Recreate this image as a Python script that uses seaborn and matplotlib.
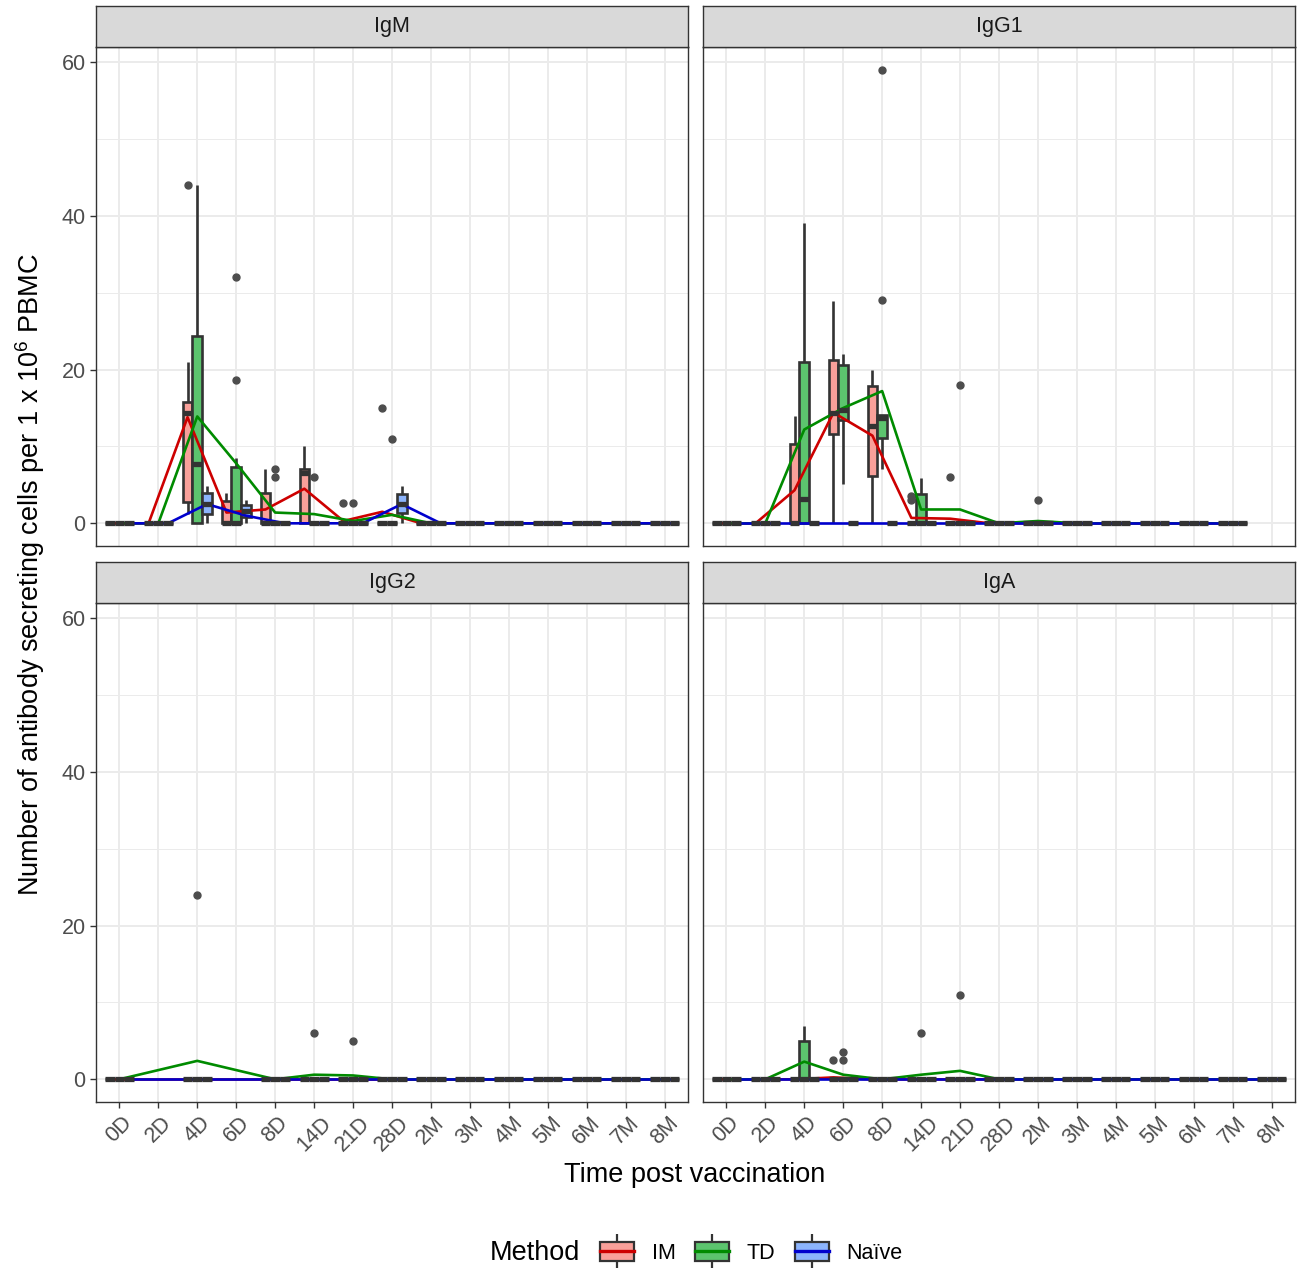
import numpy as np
import pandas as pd
import matplotlib
matplotlib.use("Agg")
import matplotlib.pyplot as plt
import matplotlib.patches as mpatches
from matplotlib.lines import Line2D
from matplotlib.legend_handler import HandlerTuple
from matplotlib.ticker import MultipleLocator
import seaborn as sns

times = ["0D", "2D", "4D", "6D", "8D", "14D", "21D", "28D",
         "2M", "3M", "4M", "5M", "6M", "7M", "8M"]
methods = ["IM", "TD", "Naïve"]
isotypes = ["IgM", "IgG1", "IgG2", "IgA"]

# time points with no samples in a panel
missing = {"IgG1": ["8M"], "IgG2": ["2D", "6D"]}

# cell counts for the groups that are not all zero (every other group is nine zeros)
counts = {
    ("IgM", "IM", "4D"): [1.2, 2, 2.8, 8, 14.4, 15, 15.8, 21, 44],
    ("IgM", "TD", "4D"): [0, 0, 0, 3, 7.7, 15, 24.3, 33, 44],
    ("IgM", "Naïve", "4D"): [0, 0.8, 1.2, 2, 2.5, 3.2, 3.9, 4.5, 4.9],
    ("IgM", "IM", "6D"): [0, 0, 0, 0, 0, 2, 2.9, 3.5, 4.0],
    ("IgM", "TD", "6D"): [0, 0, 0, 0, 0, 0, 0, 2, 5, 7.3, 8.5, 18.6, 32],
    ("IgM", "Naïve", "6D"): [0, 0.5, 0.87, 1.2, 1.6, 2, 2.34, 2.7, 3.0],
    ("IgM", "IM", "8D"): [0, 0, 0, 0, 0, 2, 3.9, 5, 7],
    ("IgM", "TD", "8D"): [0, 0, 0, 0, 0, 0, 0, 6, 7],
    ("IgM", "IM", "14D"): [0, 0, 0, 3, 6.6, 6.8, 7.1, 8.5, 10],
    ("IgM", "TD", "14D"): [0, 0, 0, 0, 0, 0, 0, 0, 6],
    ("IgM", "IM", "21D"): [0, 0, 0, 0, 0, 0, 0, 0, 2.6],
    ("IgM", "TD", "21D"): [0, 0, 0, 0, 0, 0, 0, 0, 2.6],
    ("IgM", "IM", "28D"): [0, 0, 0, 0, 0, 0, 0, 0, 15],
    ("IgM", "TD", "28D"): [0, 0, 0, 0, 0, 0, 0, 0, 11],
    ("IgM", "Naïve", "28D"): [0, 0.8, 1.3, 2, 2.5, 3.2, 3.8, 4.3, 4.9],
    ("IgG1", "IM", "4D"): [0, 0, 0, 0, 0, 5, 10.3, 12, 14],
    ("IgG1", "TD", "4D"): [0, 0, 0, 1, 3.1, 10, 21, 30, 39],
    ("IgG1", "IM", "6D"): [0, 8, 11.6, 13, 14.4, 18, 21.3, 25, 28.9],
    ("IgG1", "TD", "6D"): [5.1, 10, 13.5, 14, 14.8, 18, 20.6, 21.5, 22],
    ("IgG1", "IM", "8D"): [0, 3, 6.2, 10, 12.7, 15, 17.8, 19, 20],
    ("IgG1", "TD", "8D"): [7.1, 9, 11.1, 12, 13.75, 13.9, 14.1, 29, 59],
    ("IgG1", "IM", "14D"): [0, 0, 0, 0, 0, 0, 0, 3.0, 3.6],
    ("IgG1", "TD", "14D"): [0, 0, 0, 0, 0, 1, 3.8, 5, 5.9],
    ("IgG1", "IM", "21D"): [0, 0, 0, 0, 0, 0, 0, 0, 6],
    ("IgG1", "TD", "21D"): [0, 0, 0, 0, 0, 0, 0, 0, 18],
    ("IgG1", "TD", "2M"): [0, 0, 0, 0, 0, 0, 0, 0, 3],
    ("IgG2", "TD", "4D"): [0, 0, 0, 0, 0, 0, 0, 0, 24],
    ("IgG2", "TD", "14D"): [0, 0, 0, 0, 0, 0, 0, 0, 6],
    ("IgG2", "TD", "21D"): [0, 0, 0, 0, 0, 0, 0, 0, 5],
    ("IgA", "TD", "4D"): [0, 0, 0, 0, 0, 2, 5, 6, 6.9],
    ("IgA", "IM", "6D"): [0, 0, 0, 0, 0, 0, 0, 0, 2.5],
    ("IgA", "TD", "6D"): [0, 0, 0, 0, 0, 0, 0, 2.5, 3.5],
    ("IgA", "TD", "14D"): [0, 0, 0, 0, 0, 0, 0, 0, 6],
    ("IgA", "TD", "21D"): [0, 0, 0, 0, 0, 0, 0, 0, 11],
}

# group means, joined by lines (None = no samples)
means_IgM = {
    "IM":    [0, 0, 13.8, 1.4, 1.8, 4.5, 0.3, 1.5, 0, 0, 0, 0, 0, 0, 0],
    "TD":    [0, 0, 13.9, 7.8, 1.4, 1.2, 0.3, 1.1, 0, 0, 0, 0, 0, 0, 0],
    "Naïve": [0, 0, 2.5, 1.0, 0, 0, 0, 2.5, 0, 0, 0, 0, 0, 0, 0],
}
means_IgG1 = {
    "IM":    [0, 0, 4.3, 14.4, 11.4, 0.7, 0.6, 0, 0, 0, 0, 0, 0, 0, None],
    "TD":    [0, 0, 12.2, 15.0, 17.2, 1.8, 1.8, 0, 0.3, 0, 0, 0, 0, 0, None],
    "Naïve": [0, 0, 0, 0, 0, 0, 0, 0, 0, 0, 0, 0, 0, 0, None],
}
means_IgG2 = {
    "IM":    [0, None, 0, None, 0, 0, 0, 0, 0, 0, 0, 0, 0, 0, 0],
    "TD":    [0, None, 2.4, None, 0, 0.6, 0.5, 0, 0, 0, 0, 0, 0, 0, 0],
    "Naïve": [0, None, 0, None, 0, 0, 0, 0, 0, 0, 0, 0, 0, 0, 0],
}
means_IgA = {
    "IM":    [0, 0, 0, 0.25, 0, 0, 0, 0, 0, 0, 0, 0, 0, 0, 0],
    "TD":    [0, 0, 2.3, 0.6, 0, 0.6, 1.1, 0, 0, 0, 0, 0, 0, 0, 0],
    "Naïve": [0, 0, 0, 0, 0, 0, 0, 0, 0, 0, 0, 0, 0, 0, 0],
}
means = {"IgM": means_IgM, "IgG1": means_IgG1, "IgG2": means_IgG2, "IgA": means_IgA}

fill_colors = ["#F9A09A", "#5CC46E", "#8CB4FC"]
line_colors = ["#CD0000", "#008B00", "#0000CD"]

plt.rcParams["font.family"] = ["Liberation Sans", "DejaVu Sans"]
plt.rcParams["mathtext.fontset"] = "custom"
plt.rcParams["mathtext.rm"] = "Liberation Sans"
plt.rcParams["mathtext.it"] = "Liberation Sans:italic"

# long tables
rows = []
for iso in isotypes:
    for m in methods:
        for t in times:
            if t in missing.get(iso, []):
                continue
            for v in counts.get((iso, m, t), [0] * 9):
                rows.append((iso, m, t, v))
df = pd.DataFrame(rows, columns=["isotype", "method", "time", "count"])

box_width = 0.75
mrows = []
for iso in isotypes:
    for k, m in enumerate(methods):
        # same dodge as the boxes
        offset = (k - (len(methods) - 1) / 2) * box_width / len(methods)
        for i, (t, v) in enumerate(zip(times, means[iso][m])):
            if v is not None:
                mrows.append((iso, m, i + offset, v))
df_mean = pd.DataFrame(mrows, columns=["isotype", "method", "xpos", "mean"])

W, H = 1297, 1269
fig = plt.figure(figsize=(W / 100, H / 100), dpi=100)


def frac(x, y, w, h):
    return [x / W, 1 - (y + h) / H, w / W, h / H]


panel_w, panel_h, strip_h = 592, 499, 41
positions = {"IgM": (96, 47), "IgG1": (703, 47), "IgG2": (96, 603), "IgA": (703, 603)}
tick_size = 15.5
title_size = 19.5
edge = "#333333"

for iso in isotypes:
    px, py = positions[iso]
    ax = fig.add_axes(frac(px, py, panel_w, panel_h))
    sub = df[df.isotype == iso]
    sns.boxplot(data=sub, x="time", y="count", hue="method", order=times,
                hue_order=methods, palette=fill_colors, width=box_width, gap=0,
                dodge=True, saturation=1, linewidth=1.9, linecolor=edge,
                showcaps=False, whis=1.5,
                flierprops=dict(marker="o", markersize=5, markerfacecolor="#4D4D4D",
                                markeredgecolor="#4D4D4D"),
                medianprops=dict(linewidth=3.8, color=edge),
                legend=False, ax=ax)
    msub = df_mean[df_mean.isotype == iso]
    sns.lineplot(data=msub, x="xpos", y="mean", hue="method", hue_order=methods,
                 palette=line_colors, linewidth=1.9, estimator=None,
                 legend=False, ax=ax)

    ax.set_xlim(-0.6, 14.6)
    ax.set_ylim(-2.95, 61.95)
    ax.set_yticks([0, 20, 40, 60])
    ax.yaxis.set_minor_locator(MultipleLocator(10))
    ax.set_xticks(range(len(times)))
    ax.set_xticklabels(times)
    ax.set_axisbelow(True)
    ax.grid(which="major", color="#EBEBEB", linewidth=1.4)
    ax.grid(which="minor", axis="y", color="#EBEBEB", linewidth=0.7)
    ax.set_xlabel("")
    ax.set_ylabel("")
    for s in ax.spines.values():
        s.set_color(edge)
        s.set_linewidth(1.0)
    ax.tick_params(which="minor", length=0)
    ax.tick_params(which="major", color=edge, width=1.0, length=4.5,
                   labelcolor="#4D4D4D", labelsize=tick_size, pad=3)
    if iso in ("IgM", "IgG1"):
        ax.tick_params(axis="x", length=0, labelbottom=False)
    else:
        plt.setp(ax.get_xticklabels(), rotation=45, ha="center", va="top")
    if iso in ("IgG1", "IgA"):
        ax.tick_params(axis="y", length=0, labelleft=False)

    # facet strip
    sax = fig.add_axes(frac(px, py - strip_h, panel_w, strip_h))
    sax.set_facecolor("#D9D9D9")
    sax.set_xticks([])
    sax.set_yticks([])
    for s in sax.spines.values():
        s.set_color(edge)
        s.set_linewidth(1.0)
    sax.text(0.5, 0.5, iso, ha="center", va="center", fontsize=tick_size,
             color="#1A1A1A", transform=sax.transAxes)

fig.text(30 / W, 1 - 575 / H,
         "Number of antibody secreting cells per 1 x 10$^{6}$ PBMC",
         rotation=90, ha="center", va="center", fontsize=title_size)
fig.text(695 / W, 1 - 1175 / H, "Time post vaccination",
         ha="center", va="center", fontsize=title_size)

# legend: box key with the coloured mean line through it
handles = []
for fc, lc in zip(fill_colors, line_colors):
    whisker = Line2D([0], [0], marker="|", markersize=25, markeredgewidth=1.6,
                     color=edge, linestyle="None")
    box = mpatches.Patch(facecolor=fc, edgecolor=edge, linewidth=1.6)
    med = Line2D([], [], color=lc, linewidth=2.4)
    handles.append((whisker, box, med))

fig.text(490 / W, 1 - 1253 / H, "Method", ha="left", va="center", fontsize=title_size)
fig.legend(handles, methods, loc="center left", bbox_to_anchor=(600 / W, 1 - 1253 / H),
           ncol=3, frameon=False, fontsize=tick_size, handlelength=1.6,
           handleheight=1.0, handletextpad=0.8, columnspacing=0.9,
           borderpad=0, borderaxespad=0,
           handler_map={tuple: HandlerTuple(ndivide=1, pad=0)})

fig.savefig("out.png", dpi=100)
